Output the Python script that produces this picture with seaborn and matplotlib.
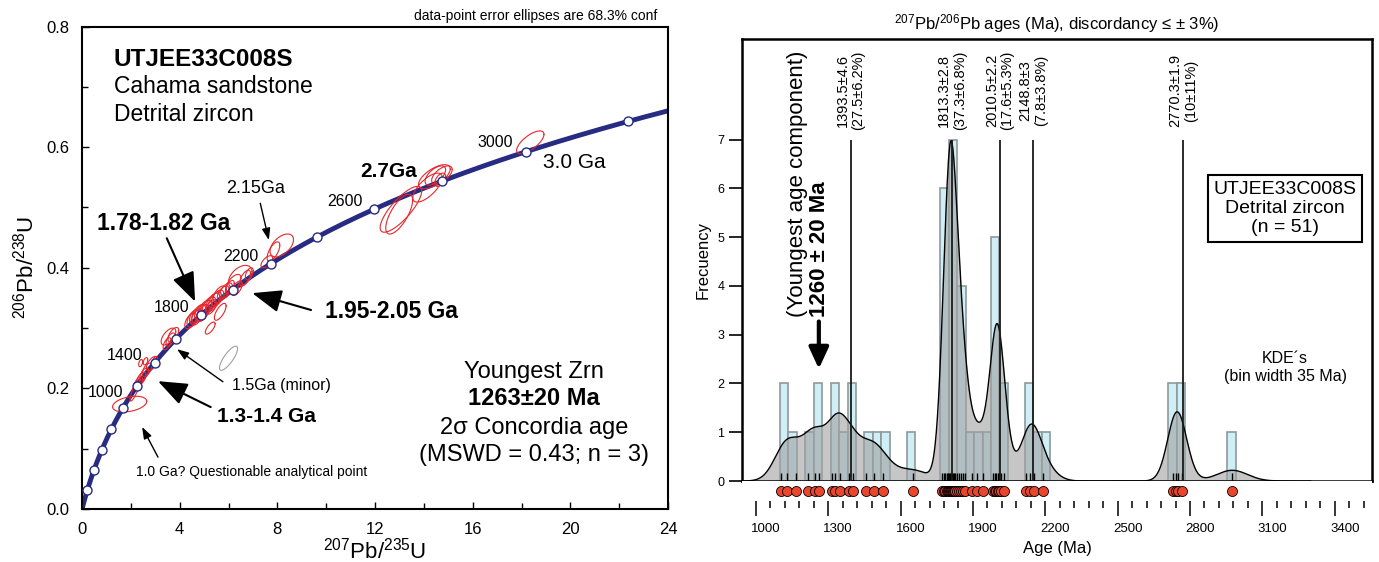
import numpy as np
import pandas as pd
import seaborn as sns
import matplotlib.pyplot as plt
import matplotlib.transforms as mtransforms
from matplotlib.ticker import MultipleLocator, FixedLocator

# ---------------- data: concordia diagram ----------------
marker_ages = [200, 400, 600, 800, 1000, 1200, 1400, 1600, 1800, 2000,
               2200, 2400, 2600, 2800, 3000, 3200]

# error ellipses: centre, half extents (207/235, 206/238) and correlation
ell_x = [1.95, 2.17, 2.30, 2.42, 2.55, 2.66, 2.86, 2.40, 2.60, 2.99,
         3.54, 3.74, 3.48, 3.62,
         4.45, 4.55, 4.62, 4.70, 4.78, 4.86, 4.95, 5.02, 5.10, 5.20, 5.28,
         5.36, 5.45, 5.55, 5.64, 5.78, 5.90, 5.66, 5.25,
         6.48, 6.20, 6.68, 6.34, 6.05, 6.85,
         8.18, 7.84, 7.57,
         12.99, 13.06, 14.15, 14.43, 14.47, 14.74, 14.67,
         18.36]
ell_y = [0.174, 0.197, 0.209, 0.216, 0.224, 0.231, 0.241, 0.242, 0.245, 0.246,
         0.286, 0.289, 0.274, 0.281,
         0.312, 0.316, 0.320, 0.318, 0.324, 0.327, 0.325, 0.331, 0.334, 0.338, 0.335,
         0.343, 0.347, 0.350, 0.356, 0.358, 0.362, 0.327, 0.300,
         0.385, 0.374, 0.383, 0.366, 0.368, 0.390,
         0.437, 0.427, 0.410,
         0.489, 0.497, 0.533, 0.551, 0.553, 0.554, 0.546,
         0.608]
ell_sx = [0.70, 0.20, 0.18, 0.20, 0.18, 0.20, 0.22, 0.08, 0.09, 0.10,
          0.30, 0.22, 0.16, 0.18,
          0.24, 0.25, 0.22, 0.24, 0.28, 0.25, 0.26, 0.28, 0.24, 0.27, 0.22,
          0.28, 0.26, 0.25, 0.27, 0.24, 0.26, 0.24, 0.20,
          0.48, 0.31, 0.22, 0.22, 0.18, 0.16,
          0.48, 0.26, 0.24,
          0.55, 0.85, 0.60, 0.65, 0.42, 0.42, 0.22,
          0.56]
ell_sy = [0.013, 0.018, 0.010, 0.011, 0.010, 0.011, 0.012, 0.006, 0.006, 0.007,
          0.014, 0.012, 0.010, 0.011,
          0.013, 0.014, 0.012, 0.013, 0.015, 0.013, 0.014, 0.015, 0.012, 0.014, 0.012,
          0.015, 0.013, 0.013, 0.014, 0.012, 0.013, 0.014, 0.010,
          0.019, 0.015, 0.013, 0.012, 0.011, 0.010,
          0.019, 0.016, 0.010,
          0.033, 0.038, 0.024, 0.020, 0.016, 0.015, 0.011,
          0.019]
ell_rho = [0.35, 0.85, 0.6, 0.6, 0.6, 0.6, 0.6, 0.4, 0.4, 0.4,
           0.6, 0.6, 0.6, 0.6,
           0.55, 0.55, 0.55, 0.55, 0.55, 0.55, 0.55, 0.55, 0.55, 0.55, 0.55,
           0.55, 0.55, 0.55, 0.55, 0.55, 0.55, 0.7, 0.7,
           0.45, 0.6, 0.6, 0.6, 0.6, 0.5,
           0.5, 0.65, 0.6,
           0.7, 0.8, 0.7, 0.65, 0.6, 0.6, 0.5,
           0.7]
# the grey (rejected) analysis
grey_ell = (6.0, 0.25, 0.37, 0.020, 0.8)

# ---------------- data: detrital ages ----------------
ages_young = [1106, 1128, 1166, 1215, 1244, 1262, 1314, 1330, 1350, 1384,
              1404, 1455, 1490, 1528, 1650]
ages_main = [1772, 1780, 1786, 1791, 1795, 1799, 1804, 1808, 1812, 1816,
             1821, 1827, 1833, 1842, 1850, 1858, 1867, 1895, 1918, 1942,
             1983, 1990, 1996, 2002, 2008, 2016, 2030]
ages_late = [2120, 2138, 2152, 2192]
ages_archean = [2730, 2740, 2752, 2768, 2975]

peak_ages = [1393.5, 1813.3, 2010.5, 2148.8, 2770.3]
peak_labels = ['1393.5±4.6\n(27.5±6.2%)', '1813.3±2.8\n(37.3±6.8%)',
               '2010.5±2.2\n(17.6±5.3%)', '2148.8±3\n(7.8±3.8%)',
               '2770.3±1.9\n(10±11%)']

ages = np.array(ages_young + ages_main + ages_late + ages_archean, dtype=float)

NAVY = '#272b82'
RED = '#e8262b'

sns.set_theme(style="white")
plt.rcParams['font.family'] = ['Liberation Sans', 'DejaVu Sans']
plt.rcParams['mathtext.fontset'] = 'custom'
plt.rcParams['mathtext.rm'] = 'Liberation Sans'
plt.rcParams['mathtext.default'] = 'regular'
plt.rcParams['text.color'] = 'black'
plt.rcParams['axes.labelcolor'] = 'black'
plt.rcParams['xtick.color'] = 'black'
plt.rcParams['ytick.color'] = 'black'

fig = plt.figure(figsize=(13.79, 5.62), dpi=100)

# =================== left: concordia ===================
axL = fig.add_axes([0.0595, 0.0943, 0.4249, 0.8584])

lam238, lam235 = 1.55125e-10, 9.8485e-10
t = np.linspace(0, 3.27e9, 400)
conc = pd.DataFrame({'x': np.expm1(lam235 * t), 'y': np.expm1(lam238 * t)})
sns.lineplot(data=conc, x='x', y='y', ax=axL, color=NAVY, lw=3.5, sort=False, zorder=2)

tt = np.linspace(0, 2 * np.pi, 120)
for x, y, sx, sy, r in zip(ell_x, ell_y, ell_sx, ell_sy, ell_rho):
    axL.plot(x + sx * np.cos(tt), y + sy * (r * np.cos(tt) + np.sqrt(1 - r * r) * np.sin(tt)),
             color=RED, lw=0.8, zorder=3)
x, y, sx, sy, r = grey_ell
axL.plot(x + sx * np.cos(tt), y + sy * (r * np.cos(tt) + np.sqrt(1 - r * r) * np.sin(tt)),
         color='#a0a0a0', lw=0.8, zorder=3)

tm = np.array(marker_ages) * 1e6
sns.scatterplot(x=np.expm1(lam235 * tm), y=np.expm1(lam238 * tm), ax=axL, s=42,
                color='white', edgecolor=NAVY, linewidth=1, zorder=4)

axL.set_xlim(0, 24)
axL.set_ylim(0, 0.8)
axL.xaxis.set_major_locator(MultipleLocator(4))
axL.xaxis.set_minor_locator(MultipleLocator(2))
axL.yaxis.set_major_locator(MultipleLocator(0.2))
axL.yaxis.set_minor_locator(MultipleLocator(0.1))
axL.tick_params(which='both', direction='in', bottom=True, left=True, width=1, colors='black')
axL.tick_params(which='major', length=5, labelsize=12)
axL.tick_params(which='minor', length=4)
axL.tick_params(axis='x', pad=9)
axL.tick_params(axis='y', pad=9)
for s in axL.spines.values():
    s.set_color('black')
    s.set_linewidth(1.5)
axL.set_xlabel(r'$^{207}$Pb/$^{235}$U', fontsize=16, labelpad=1)
axL.set_ylabel(r'$^{206}$Pb/$^{238}$U', fontsize=16, labelpad=6)

axL.text(23.57, 0.818, 'data-point error ellipses are 68.3% conf', fontsize=10,
         ha='right', va='center', clip_on=False)
axL.text(1.27, 0.746, 'UTJEE33C008S', fontsize=17.5, fontweight='bold', va='center')
axL.text(1.30, 0.700, 'Cahama sandstone', fontsize=16.5, va='center')
axL.text(1.30, 0.655, 'Detrital zircon', fontsize=16.5, va='center')

small = dict(fontsize=11.5, ha='center', va='center')
axL.text(16.93, 0.607, '3000', **small)
axL.text(10.78, 0.510, '2600', **small)
axL.text(6.52, 0.418, '2200', **small)
axL.text(3.68, 0.334, '1800', **small)
axL.text(1.76, 0.255, '1400', **small)
axL.text(0.98, 0.194, '1000', **small)

axL.text(20.16, 0.574, '3.0 Ga', fontsize=15, ha='center', va='center')
axL.text(12.57, 0.559, '2.7Ga', fontsize=15, fontweight='bold', ha='center', va='center')
axL.text(7.11, 0.532, '2.15Ga', fontsize=13, ha='center', va='center')
axL.text(3.33, 0.474, '1.78-1.82 Ga', fontsize=16.5, fontweight='bold', ha='center', va='center')
axL.text(12.66, 0.327, '1.95-2.05 Ga', fontsize=16.5, fontweight='bold', ha='center', va='center')
axL.text(8.16, 0.204, '1.5Ga (minor)', fontsize=11.5, ha='center', va='center')
axL.text(7.56, 0.153, '1.3-1.4 Ga', fontsize=15, fontweight='bold', ha='center', va='center')
axL.text(6.95, 0.061, '1.0 Ga? Questionable analytical point', fontsize=10, ha='center', va='center')

big = dict(arrowstyle='-|>,head_length=1.8,head_width=0.7', lw=1.5, color='black',
           shrinkA=0, shrinkB=0, mutation_scale=10)
thin = dict(arrowstyle='-|>,head_length=0.7,head_width=0.25', lw=1, color='black',
            shrinkA=0, shrinkB=0, mutation_scale=10)
axL.annotate('', xy=(4.63, 0.344), xytext=(3.47, 0.449), arrowprops=big)
axL.annotate('', xy=(6.97, 0.358), xytext=(9.38, 0.330), arrowprops=big)
axL.annotate('', xy=(3.11, 0.212), xytext=(5.27, 0.169), arrowprops=big)
axL.annotate('', xy=(7.65, 0.446), xytext=(7.30, 0.507), arrowprops=thin)
axL.annotate('', xy=(3.89, 0.265), xytext=(5.77, 0.211), arrowprops=thin)
axL.annotate('', xy=(2.46, 0.136), xytext=(3.11, 0.086), arrowprops=thin)

zr = dict(ha='center', va='center', fontsize=17)
axL.text(18.52, 0.228, 'Youngest Zrn', **zr)
axL.text(18.52, 0.184, '1263±20 Ma', fontweight='bold', **zr)
axL.text(18.52, 0.134, '2σ Concordia age', **zr)
axL.text(18.52, 0.0896, '(MSWD = 0.43; n = 3)', **zr)

# =================== right: histogram + KDE ===================
axR = fig.add_axes([0.538, 0.1441, 0.457, 0.7865])
axD = fig.add_axes([0.538, 0.1085, 0.457, 0.0356])

binw = 35
sns.histplot(x=ages, bins=np.arange(1100, 3200, binw), ax=axR, color='#cfeef5',
             edgecolor='#8e9a9b', linewidth=1.2, alpha=1, zorder=1)

# adaptive kernel density, scaled to counts per bin
grid = np.linspace(950, 3300, 1500)
h0 = 32.0
pilot = np.exp(-0.5 * ((ages[:, None] - ages[None, :]) / h0) ** 2).sum(1) / (len(ages) * h0 * np.sqrt(2 * np.pi))
hi = h0 * (np.exp(np.log(pilot).mean()) / pilot) ** 0.45
dens = (np.exp(-0.5 * ((grid[:, None] - ages[None, :]) / hi) ** 2) / (hi * np.sqrt(2 * np.pi))).sum(1) * binw
axR.fill_between(grid, dens, color='#a0a0a0', alpha=0.6, lw=0, zorder=2)
axR.plot(grid, dens, color='black', lw=1, zorder=3)
sns.rugplot(x=ages, ax=axR, height=0.018, color='black', lw=0.6, zorder=3)

axR.vlines(peak_ages, 0, 7, color='#1a1a1a', lw=1.3, zorder=4)
for pa, pl in zip(peak_ages, peak_labels):
    axR.text(pa, 8.0, pl, rotation=90, ha='center', va='center', multialignment='center',
             fontsize=10.5, linespacing=1.15)

axR.set_xlim(942, 3555)
axR.set_ylim(0, 9.06)
axR.set_yticks(range(8))
axR.tick_params(axis='x', bottom=False, labelbottom=False)
axR.tick_params(axis='y', left=True, direction='out', length=9.5, width=1.2,
                labelsize=9, colors='black', pad=3)
for s in axR.spines.values():
    s.set_color('black')
    s.set_linewidth(1.8)
axR.set_ylabel('Frecuency', fontsize=12, labelpad=5)
axR.set_xlabel('')
axR.set_title(r'$^{207}$Pb/$^{206}$Pb ages (Ma), discordancy ≤ ± 3%)', fontsize=12, pad=7)

axR.text(1172, 3.36, '(Youngest age component)', rotation=90, ha='center', va='bottom', fontsize=16)
axR.text(1265, 3.36, '1260 ± 20 Ma', rotation=90, ha='center', va='bottom', fontsize=16,
         fontweight='bold')
axR.annotate('', xy=(1261, 2.3), xytext=(1261, 3.27),
             arrowprops=dict(arrowstyle='-|>,head_length=1.3,head_width=0.6', lw=3,
                             color='black', shrinkA=0, shrinkB=0, mutation_scale=10))
axR.text(3194, 5.59, 'UTJEE33C008S\nDetrital zircon\n(n = 51)', ha='center', va='center',
         fontsize=14, multialignment='center', linespacing=1.15,
         bbox=dict(boxstyle='square,pad=0.3', fc='white', ec='black', lw=1.5))
axR.text(3194, 2.33, 'KDE´s\n(bin width 35 Ma)', ha='center', va='center', fontsize=11.5,
         multialignment='center')

# dots + age axis below the frame
sns.scatterplot(x=ages, y=np.full(len(ages), 0.5), ax=axD, color='#e8472d', edgecolor='black',
                linewidth=0.6, s=52, clip_on=False, zorder=3)
axD.set_xlim(942, 3555)
axD.set_ylim(0, 1)
axD.set_yticks([])
axD.set_ylabel('')
for s in axD.spines.values():
    s.set_visible(False)
axD.xaxis.set_major_locator(FixedLocator(np.arange(1000, 3401, 300)))
axD.xaxis.set_minor_locator(FixedLocator(np.arange(1000, 3521, 60)))
axD.set_xticklabels([str(v) for v in np.arange(1000, 3401, 300)])
axD.tick_params(axis='x', which='both', bottom=True, direction='out', width=1.1, colors='black')
axD.tick_params(axis='x', which='major', length=11, labelsize=9.5, pad=5)
axD.tick_params(axis='x', which='minor', length=5)
off = mtransforms.ScaledTranslation(0.1, 0, fig.dpi_scale_trans)
for lab in axD.get_xticklabels():
    lab.set_transform(lab.get_transform() + off)
axD.set_xlabel('Age (Ma)', fontsize=12, labelpad=4)

fig.savefig('out.png', dpi=100)
